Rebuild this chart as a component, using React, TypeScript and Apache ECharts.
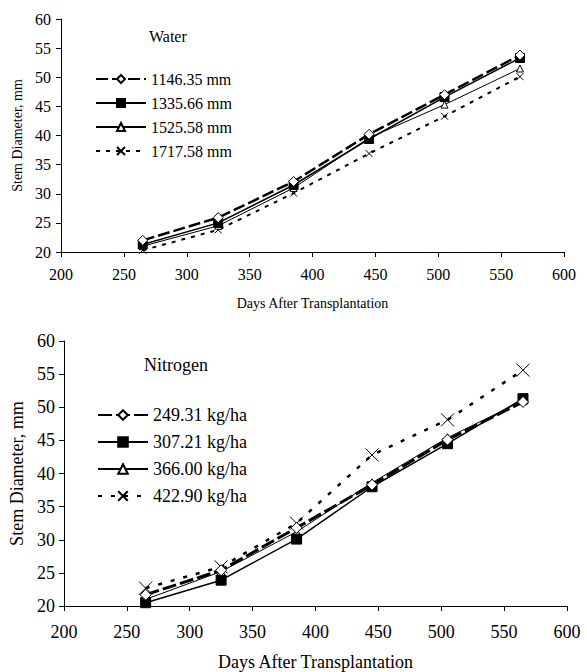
import React, { useEffect, useRef } from "react";
import * as echarts from "echarts";

const days = [265, 325, 385, 445, 505, 565];

const waterNames = ["1146.35 mm", "1335.66 mm", "1525.58 mm", "1717.58 mm"];
const water1 = [22.0, 25.9, 32.1, 40.2, 47.0, 53.8];
const water2 = [21.3, 25.0, 31.5, 39.4, 46.6, 53.3];
const water3 = [21.0, 24.5, 31.0, 39.6, 45.3, 51.5];
const water4 = [20.3, 23.8, 30.1, 36.9, 43.3, 50.1];

const nitroNames = ["249.31 kg/ha", "307.21 kg/ha", "366.00 kg/ha", "422.90 kg/ha"];
const nitro1 = [21.7, 25.4, 31.8, 38.3, 45.1, 50.8];
const nitro2 = [20.5, 23.9, 30.1, 38.0, 44.5, 51.3];
const nitro3 = [21.0, 25.2, 31.2, 38.6, 45.4, 51.0];
const nitro4 = [22.7, 25.9, 32.5, 42.8, 48.1, 55.6];

const FONT = "'Liberation Serif', 'Times New Roman', serif";
const CROSS = "path://M0,0L10,10M10,0L0,10";

function pairs(ys: number[]) {
  return days.map((d, i) => [d, ys[i]]);
}

function axisPair(idx: number, fs: number, nameFs: number, xGap: number, yGap: number, xMargin: number, yMargin: number) {
  const common = {
    gridIndex: idx,
    axisLine: { show: true, lineStyle: { color: "#000", width: 1 } },
    axisTick: { show: true, inside: false, length: 5, lineStyle: { color: "#000" } },
    splitLine: { show: false },
    nameLocation: "middle" as const,
    nameTextStyle: { fontFamily: FONT, fontSize: nameFs, color: "#000" },
  };
  return {
    x: {
      ...common,
      type: "value" as const,
      min: 200,
      max: 600,
      interval: 50,
      name: "Days After Transplantation",
      nameGap: xGap,
      axisLabel: { fontFamily: FONT, fontSize: fs, color: "#000", margin: xMargin },
    },
    y: {
      ...common,
      type: "value" as const,
      min: 20,
      max: 60,
      interval: 5,
      name: "Stem Diameter, mm",
      nameGap: yGap,
      axisLabel: { fontFamily: FONT, fontSize: fs, color: "#000", margin: yMargin },
    },
  };
}

type Style = { dash: any; width: number; symbol: string; size: number; fill: string };

function makeSeries(names: string[], vals: number[][], styles: Style[], idx: number) {
  return names.map((n, i) => ({
    type: "line" as const,
    name: n,
    xAxisIndex: idx,
    yAxisIndex: idx,
    data: pairs(vals[i]),
    symbol: styles[i].symbol,
    symbolSize: styles[i].size,
    showAllSymbol: true,
    color: "#000",
    lineStyle: { color: "#000", width: styles[i].width, type: styles[i].dash },
    itemStyle: { color: styles[i].fill, borderColor: "#000", borderWidth: 1 },
    emphasis: { disabled: true },
    z: 10 - i,
  }));
}

export default function App() {
  const ref = useRef<HTMLDivElement>(null);
  useEffect(() => {
    if (!ref.current) return;
    const chart = echarts.init(ref.current, undefined, { renderer: "svg" });
    const top = axisPair(0, 16, 14, 44, 36, 14, 10);
    const bot = axisPair(1, 18, 18, 47, 32, 17, 9);
    const topStyles: Style[] = [
      { dash: [12, 4], width: 2.5, symbol: "diamond", size: 10, fill: "#fff" },
      { dash: "solid", width: 1.5, symbol: "rect", size: 9, fill: "#000" },
      { dash: "solid", width: 1, symbol: "triangle", size: 7, fill: "#fff" },
      { dash: [4, 6], width: 2, symbol: CROSS, size: 7, fill: "transparent" },
    ];
    const botStyles: Style[] = [
      { dash: [14, 4], width: 3, symbol: "diamond", size: 11, fill: "#fff" },
      { dash: "solid", width: 1.5, symbol: "rect", size: 10, fill: "#000" },
      { dash: "solid", width: 1, symbol: "triangle", size: 8, fill: "#fff" },
      { dash: [4, 9], width: 2.5, symbol: CROSS, size: 13, fill: "transparent" },
    ];
    chart.setOption({
      animation: false,
      backgroundColor: "#fff",
      grid: [
        { left: 61, right: 23, top: 19, height: 233 },
        { left: 62, right: 20, top: 341, height: 265 },
      ],
      xAxis: [top.x, bot.x],
      yAxis: [top.y, bot.y],
      legend: [
        {
          data: waterNames,
          orient: "vertical",
          left: 90,
          top: 66,
          itemWidth: 50,
          itemHeight: 10,
          itemGap: 8,
          selectedMode: false,
          textStyle: { fontFamily: FONT, fontSize: 16, color: "#000", lineHeight: 16 },
        },
        {
          data: nitroNames,
          orient: "vertical",
          left: 92,
          top: 401,
          itemWidth: 50,
          itemHeight: 12,
          itemGap: 9,
          selectedMode: false,
          textStyle: { fontFamily: FONT, fontSize: 18, color: "#000", lineHeight: 18 },
        },
      ],
      graphic: [
        { type: "text", left: 149, top: 28, style: { text: "Water", fontFamily: FONT, fontSize: 16, fill: "#000" } },
        { type: "text", left: 144, top: 356, style: { text: "Nitrogen", fontFamily: FONT, fontSize: 18, fill: "#000" } },
      ],
      series: [
        ...makeSeries(waterNames, [water1, water2, water3, water4], topStyles, 0),
        ...makeSeries(nitroNames, [nitro1, nitro2, nitro3, nitro4], botStyles, 1),
      ],
    });
    return () => chart.dispose();
  }, []);
  return (
    <div
      ref={ref}
      style={{ position: "absolute", left: 0, top: 0, width: 587, height: 672, background: "#fff" }}
    />
  );
}
